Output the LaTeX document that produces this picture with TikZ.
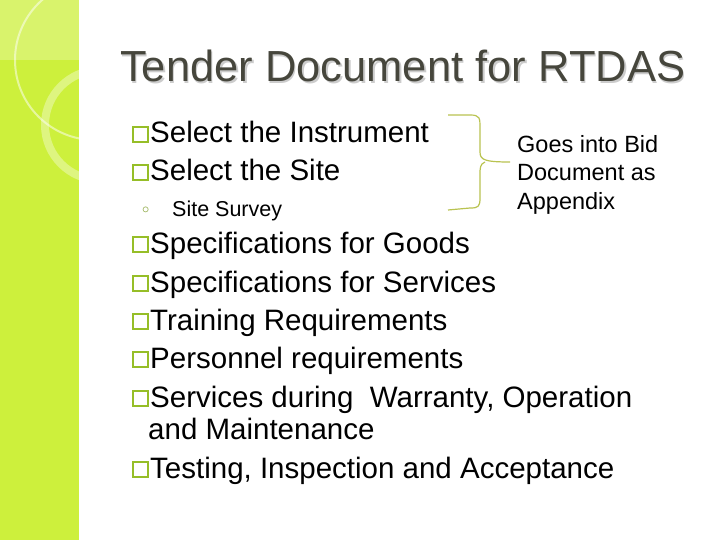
\documentclass[tikz,border=0pt]{standalone}
\usepackage{fontspec}
\setmainfont{Liberation Sans}
\begin{document}
\begin{tikzpicture}[x=1pt,y=-1pt,
  body/.style={anchor=base west,inner sep=0pt,font=\fontsize{29.5}{30}\selectfont},
  sq/.style={draw=bulletgreen,line width=1.6pt,minimum size=15pt,inner sep=0pt,anchor=south west},
  note/.style={anchor=base west,inner sep=0pt,font=\fontsize{23.5}{24}\selectfont}]
\definecolor{bar}{RGB}{205,240,60}
\definecolor{bulletgreen}{RGB}{150,190,40}
\definecolor{brace}{RGB}{185,195,80}
\definecolor{titlegray}{RGB}{70,70,60}
\useasboundingbox (0,0) rectangle (720,540);
\fill[white] (0,0) rectangle (720,540);
\fill[bar] (0,0) rectangle (79,540);
\begin{scope}
\clip (0,0) rectangle (79,540);
\draw[white,opacity=0.5,line width=2pt] (95,60) circle (80);
\draw[white,opacity=0.35,line width=8pt] (100,125) circle (55);
\fill[white,opacity=0.25] (0,0) rectangle (79,60);
\end{scope}
\node[anchor=base west,inner sep=0pt,text=titlegray,font=\fontsize{43.5}{44}\selectfont,
  path picture={}] (title) at (120,82) {\rlap{\hspace{1.5pt}\raisebox{-1.5pt}{\color{gray!40}Tender Document for RTDAS}}Tender Document for RTDAS};
\foreach \i/\y/\t in {1/143/Select the Instrument,2/181/Select the Site,3/253/Specifications for Goods,4/292/Specifications for Services,5/330/Training Requirements,6/368/Personnel requirements,7/407/{Services during\ \ Warranty, Operation},8/478/{Testing, Inspection and Acceptance}}{
  \node[sq] (b\i) at (132,\y) {};
  \node[body] (t\i) at (150,\y) {\t};
}
\node[body] (t7b) at (148,439) {and Maintenance};
\node[anchor=base west,inner sep=0pt,text=bulletgreen!80!black,font=\fontsize{14}{14}\selectfont] (cb) at (142,214) {$\circ$};
\node[anchor=base west,inner sep=0pt,font=\fontsize{21.5}{22}\selectfont] (ss) at (172,216) {Site Survey};
\node[note] (n1) at (517,153) {Goes into Bid};
\node[note] (n2) at (517,181) {Document as};
\node[note] (n3) at (517,210) {Appendix};
\draw[brace,line width=1.2pt] (448,115) -- (470,115) .. controls (480,115) and (480,118) .. (480,128)
  -- (480,152) .. controls (480,160) and (485,162) .. (510,162);
\draw[brace,line width=1.2pt] (485,162) .. controls (480,164) and (480,168) .. (480,175)
  -- (480,198) .. controls (480,207) and (478,208) .. (470,208) -- (448,210);
\end{tikzpicture}
\end{document}
